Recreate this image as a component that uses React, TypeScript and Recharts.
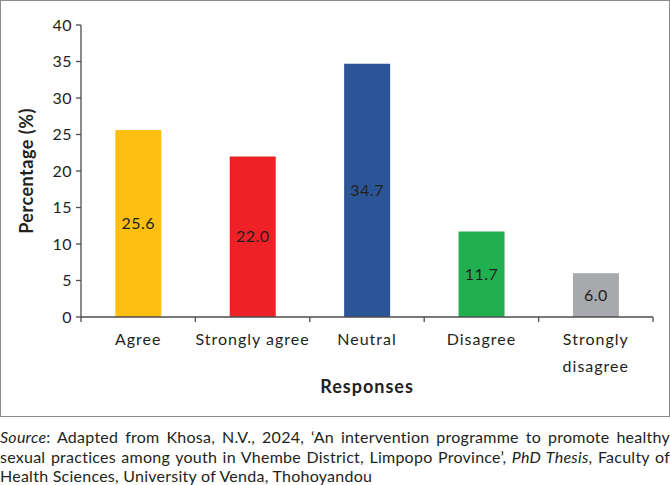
import React from "react";
import { BarChart, Bar, XAxis, YAxis, Cell, LabelList } from "recharts";

const categories = ["Agree", "Strongly agree", "Neutral", "Disagree", "Strongly disagree"];
const tickLabelLines = [["Agree"], ["Strongly agree"], ["Neutral"], ["Disagree"], ["Strongly", "disagree"]];
const percentages = [25.6, 22.0, 34.7, 11.7, 6.0];
const barColors = ["#FDC010", "#EE2127", "#2B5597", "#21B04F", "#A7A9AC"];
const yTicks = [0, 5, 10, 15, 20, 25, 30, 35, 40];

const sourceLines = [
  [
    { t: "Source", i: true },
    { t: ": Adapted from Khosa, N.V., 2024, \u2018An intervention programme to promote healthy" },
  ],
  [
    { t: "sexual practices among youth in Vhembe District, Limpopo Province\u2019, " },
    { t: "PhD Thesis", i: true },
    { t: ", Faculty of" },
  ],
  [{ t: "Health Sciences, University of Venda, Thohoyandou" }],
];

const data = categories.map((name, i) => ({ name, value: percentages[i] }));

const FONT = "Lato, 'Open Sans', sans-serif";
const AXIS = "#4d4d4d";
const TEXT = "#231f20";

const CategoryTick = (props: any) => {
  const { x, y, payload, index, visibleTicksCount } = props;
  const half = payload?.offset ?? 0;
  const lines = tickLabelLines[categories.indexOf(payload.value)] ?? [payload.value];
  return (
    <g>
      <line x1={x - half} x2={x - half} y1={y} y2={y + 5} stroke={AXIS} strokeWidth={1.3} />
      {index === visibleTicksCount - 1 && (
        <line x1={x + half} x2={x + half} y1={y} y2={y + 5} stroke={AXIS} strokeWidth={1.3} />
      )}
      <text
        x={x}
        y={y + 28}
        textAnchor="middle"
        fill={TEXT}
        fontSize={16}
        fontFamily={FONT}
        letterSpacing={1}
      >
        {lines.map((l, k) => (
          <tspan key={k} x={x} dy={k === 0 ? 0 : 27}>
            {l}
          </tspan>
        ))}
      </text>
    </g>
  );
};

const YTitle = (props: any) => {
  const vb = props.viewBox;
  const cx = vb.x + 32;
  const cy = vb.y + vb.height / 2;
  return (
    <text
      x={cx}
      y={cy}
      transform={`rotate(-90, ${cx}, ${cy})`}
      textAnchor="middle"
      fill={TEXT}
      fontSize={18}
      fontWeight={700}
      fontFamily={FONT}
      letterSpacing={0.5}
    >
      Percentage (%)
    </text>
  );
};

const XTitle = (props: any) => {
  const vb = props.viewBox;
  return (
    <text
      x={vb.x + vb.width / 2}
      y={vb.y + 76}
      textAnchor="middle"
      fill={TEXT}
      fontSize={18}
      fontWeight={700}
      fontFamily={FONT}
      letterSpacing={1}
    >
      Responses
    </text>
  );
};

export default function App() {
  return (
    <div style={{ position: "absolute", left: 0, top: 0, width: 670, fontFamily: FONT }}>
      <div
        style={{
          width: 670,
          height: 417,
          boxSizing: "border-box",
          border: "1px solid #8c8c8c",
        }}
      >
        <BarChart
          width={668}
          height={415}
          data={data}
          margin={{ top: 24, right: 16, bottom: 0, left: 0 }}
          barCategoryGap="30%"
        >
          <XAxis
            dataKey="name"
            height={99}
            interval={0}
            tickLine={false}
            tickSize={0}
            tickMargin={0}
            axisLine={{ stroke: AXIS, strokeWidth: 1.3 }}
            tick={<CategoryTick />}
            label={<XTitle />}
          />
          <YAxis
            width={80}
            domain={[0, 40]}
            ticks={yTicks}
            interval={0}
            tickSize={5}
            tickMargin={4}
            axisLine={{ stroke: AXIS, strokeWidth: 1.3 }}
            tickLine={{ stroke: AXIS, strokeWidth: 1.3 }}
            tick={{ fill: TEXT, fontSize: 16, fontFamily: FONT, letterSpacing: 0.5 }}
            label={<YTitle />}
          />
          <Bar dataKey="value" isAnimationActive={false}>
            {data.map((d, i) => (
              <Cell key={d.name} fill={barColors[i]} />
            ))}
            <LabelList
              dataKey="value"
              position="center"
              formatter={(v: any) => Number(v).toFixed(1)}
              fill={TEXT}
              fontSize={16}
              fontFamily={FONT}
              letterSpacing={0.5}
            />
          </Bar>
        </BarChart>
      </div>
      <div
        style={{
          marginTop: 10,
          fontSize: 16,
          letterSpacing: 0.25,
          lineHeight: "19.5px",
          color: TEXT,
        }}
      >
        {sourceLines.map((line, li) => (
          <div
            key={li}
            style={{
              textAlign: "justify",
              textAlignLast: li < sourceLines.length - 1 ? "justify" : "left",
              whiteSpace: "nowrap",
            }}
          >
            {line.map((seg, si) => (
              <span key={si} style={{ fontStyle: seg.i ? "italic" : "normal" }}>
                {seg.t}
              </span>
            ))}
          </div>
        ))}
      </div>
    </div>
  );
}
